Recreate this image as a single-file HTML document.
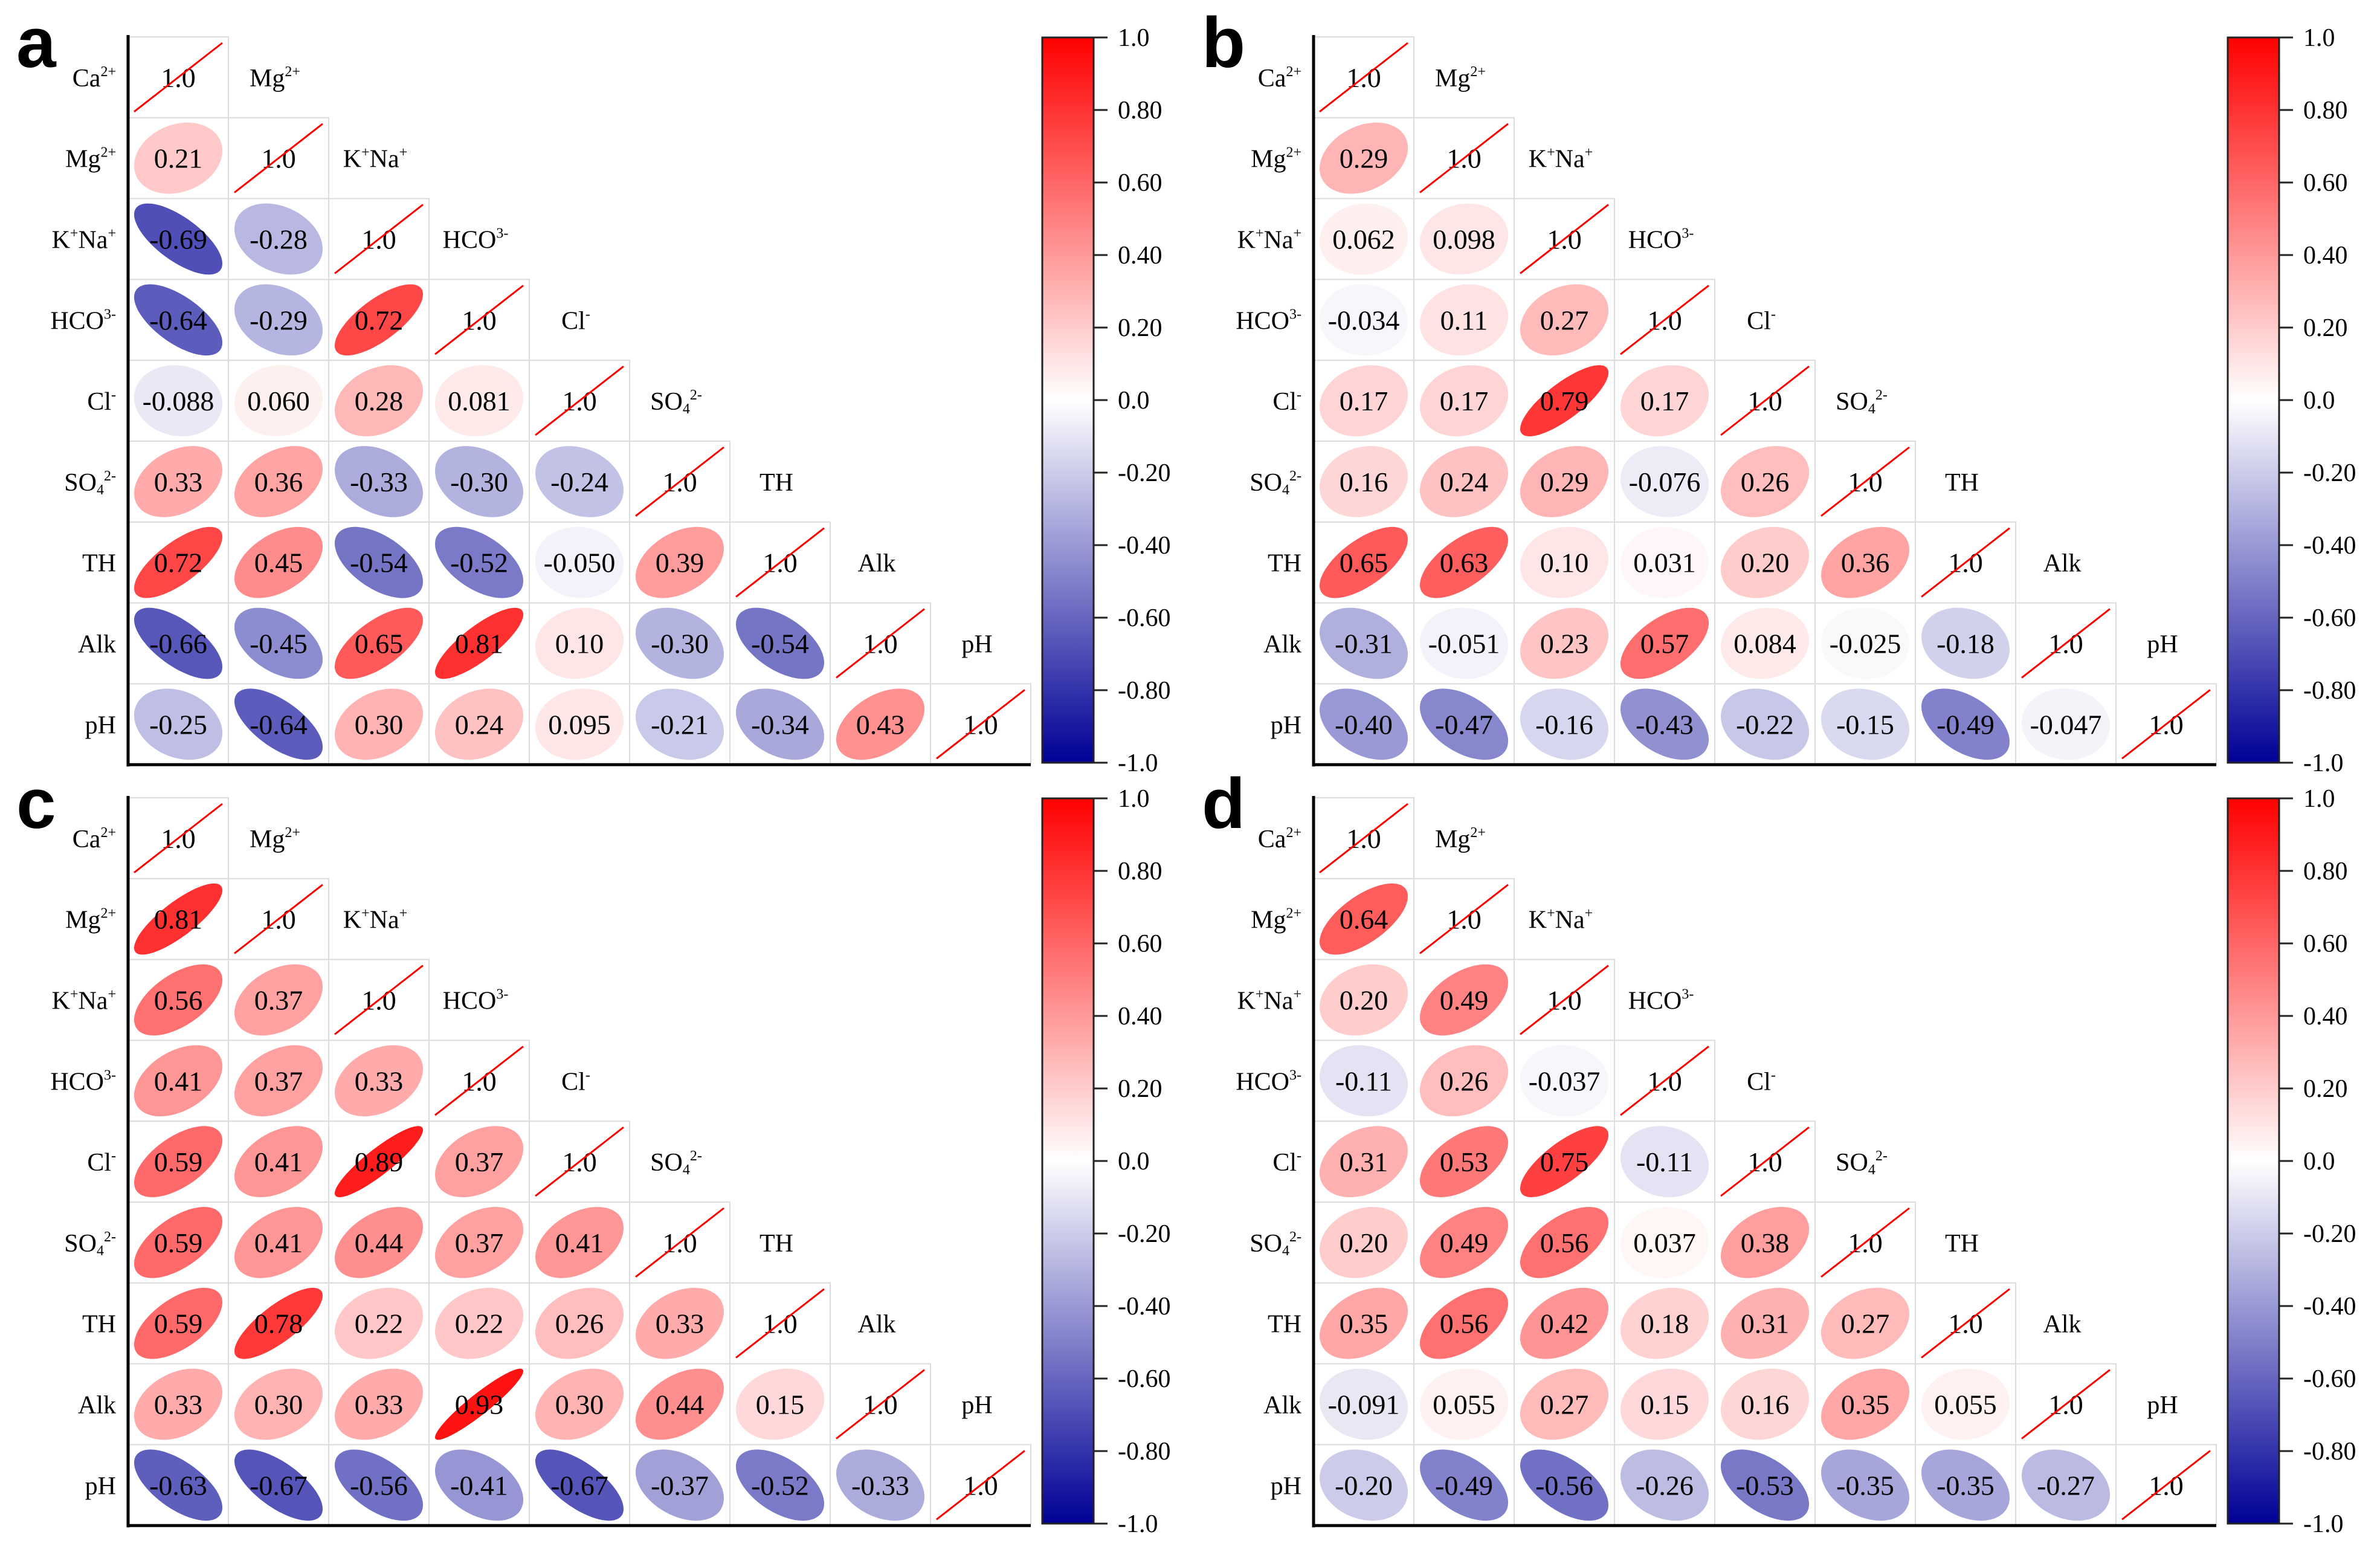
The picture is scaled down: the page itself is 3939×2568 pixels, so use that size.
<!DOCTYPE html>
<html><head><meta charset="utf-8">
<style>
html,body{margin:0;padding:0;background:#fff;}
svg{display:block;}
text{font-family:"Liberation Serif","Times New Roman",serif;fill:#000;}
text.pl{font-family:"Liberation Sans",Arial,sans-serif;font-weight:bold;}
</style></head>
<body>
<svg id="fig" width="3939" height="2568" viewBox="0 0 3939 2568" xmlns="http://www.w3.org/2000/svg" font-family="Liberation Serif, serif">
<defs>
<linearGradient id="cbgrad" x1="0" y1="0" x2="0" y2="1">
<stop offset="0" stop-color="rgb(255,0,0)"/>
<stop offset="0.5" stop-color="rgb(255,255,255)"/>
<stop offset="1" stop-color="rgb(0,0,150)"/>
</linearGradient>
</defs>
</svg>
<script>
// Variables (row/column categories)
const variables = ["Ca","Mg","KNa","HCO","Cl","SO4","TH","Alk","pH"];
const panelLetters = ["a","b","c","d"];
const colorbarTicks = [1.0,0.8,0.6,0.4,0.2,0.0,-0.2,-0.4,-0.6,-0.8,-1.0];
const colorbarTickLabels = ["1.0","0.80","0.60","0.40","0.20","0.0","-0.20","-0.40","-0.60","-0.80","-1.0"];

// Lower-triangle correlation values, row by row (rows Mg..pH)
const corrA = [
 [0.21],
 [-0.69,-0.28],
 [-0.64,-0.29,0.72],
 [-0.088,0.060,0.28,0.081],
 [0.33,0.36,-0.33,-0.30,-0.24],
 [0.72,0.45,-0.54,-0.52,-0.050,0.39],
 [-0.66,-0.45,0.65,0.81,0.10,-0.30,-0.54],
 [-0.25,-0.64,0.30,0.24,0.095,-0.21,-0.34,0.43]
];
const corrB = [
 [0.29],
 [0.062,0.098],
 [-0.034,0.11,0.27],
 [0.17,0.17,0.79,0.17],
 [0.16,0.24,0.29,-0.076,0.26],
 [0.65,0.63,0.10,0.031,0.20,0.36],
 [-0.31,-0.051,0.23,0.57,0.084,-0.025,-0.18],
 [-0.40,-0.47,-0.16,-0.43,-0.22,-0.15,-0.49,-0.047]
];
const corrC = [
 [0.81],
 [0.56,0.37],
 [0.41,0.37,0.33],
 [0.59,0.41,0.89,0.37],
 [0.59,0.41,0.44,0.37,0.41],
 [0.59,0.78,0.22,0.22,0.26,0.33],
 [0.33,0.30,0.33,0.93,0.30,0.44,0.15],
 [-0.63,-0.67,-0.56,-0.41,-0.67,-0.37,-0.52,-0.33]
];
const corrD = [
 [0.64],
 [0.20,0.49],
 [-0.11,0.26,-0.037],
 [0.31,0.53,0.75,-0.11],
 [0.20,0.49,0.56,0.037,0.38],
 [0.35,0.56,0.42,0.18,0.31,0.27],
 [-0.091,0.055,0.27,0.15,0.16,0.35,0.055],
 [-0.20,-0.49,-0.56,-0.26,-0.53,-0.35,-0.35,-0.27]
];

const NS = "http://www.w3.org/2000/svg";
const svg = document.getElementById("fig");
const CW = 166, CH = 133.8, N = 9;
const SERIF = "Liberation Serif, Times New Roman, serif";
const panels = [
 {ox:212, oy:61, data:corrA},
 {ox:2174, oy:61, data:corrB},
 {ox:212, oy:1320, data:corrC},
 {ox:2174, oy:1320, data:corrD}
];

function mk(tag, attrs, parent){
  const e = document.createElementNS(NS, tag);
  for (const k in attrs) e.setAttribute(k, attrs[k]);
  (parent||svg).appendChild(e);
  return e;
}
function color(r){
  if (r >= 0){ const g = Math.round(255*(1-r)); return `rgb(255,${g},${g})`; }
  const a = -r; const g = Math.round(255*(1-a)); const b = Math.round(255 - a*105);
  return `rgb(${g},${g},${b})`;
}
function fmt(v){ return Math.abs(v) < 0.1 ? v.toPrecision(2) : v.toFixed(2); }
function xAt(ox, j){ return ox + j*CW; }
function yAt(oy, i){ return oy + i*CH; }
function ellipsePath(cx, cy, r){
  const d = Math.acos(Math.max(-0.999, Math.min(0.999, r)));
  const sx = CW/2*0.88, sy = CH/2*0.88;
  let p = "";
  for (let k=0;k<=72;k++){
    const t = k/72*2*Math.PI;
    const x = cx + sx*Math.cos(t + d/2);
    const y = cy - sy*Math.cos(t - d/2);
    p += (k?"L":"M") + x.toFixed(1) + "," + y.toFixed(1);
  }
  return p + "Z";
}
function labelText(parent, name, x, y, anchor){
  const t = mk("text", {x:x, y:y, "font-size":42, "text-anchor":anchor, "font-family":SERIF}, parent);
  const add = (s, opt) => { const ts = mk("tspan", opt||{}, t); ts.textContent = s; return ts; };
  const sup = {"font-size":24, dy:-17};
  const back = (n) => ({dy:n});
  if (name==="Ca"){ add("Ca"); add("2+", sup); }
  else if (name==="Mg"){ add("Mg"); add("2+", sup); }
  else if (name==="KNa"){ add("K"); add("+", sup); add("Na", back(17)); add("+", sup); }
  else if (name==="HCO"){ add("HCO"); add("3-", sup); }
  else if (name==="Cl"){ add("Cl"); add("-", sup); }
  else if (name==="SO4"){ add("SO"); add("4", {"font-size":24, dy:6}); add("2-", {"font-size":24, dy:-23}); }
  else add(name);
  return t;
}

panels.forEach((P, pi) => {
  const g = mk("g", {});
  
  
  const L = mk("text", {x:P.ox-185, y:P.oy+50, "font-size":118, class:"pl", "font-family":"Liberation Sans, Arial, sans-serif", "font-weight":"bold"}, g);
  L.textContent = panelLetters[pi];
  
  
  for (let i=0;i<N;i++){
    for (let j=0;j<=i;j++){
      const x = xAt(P.ox,j), y = yAt(P.oy,i);
      const c = mk("rect", {x:x, y:y, width:CW, height:CH, fill:"none", stroke:"#dcdcdc", "stroke-width":2}, g);
      
      
    }
  }
  for (let i=0;i<N;i++){
    const rl = labelText(g, variables[i], P.ox-20, yAt(P.oy,i)+CH/2+15, "end");
    
    
    if (i < N-1){
      const cl = labelText(g, variables[i+1], xAt(P.ox,i+1)+CW/2-6, yAt(P.oy,i)+CH/2+15, "middle");
      
      
    }
    const dx = xAt(P.ox,i), dy = yAt(P.oy,i);
    const dt = mk("text", {x:dx+CW/2, y:dy+CH/2+16, "font-size":46, "text-anchor":"middle", "font-family":SERIF}, g);
    dt.textContent = "1.0";
    
    
    const dl = mk("line", {x1:dx+10, y1:dy+CH-10, x2:dx+CW-10, y2:dy+10, stroke:"#ff0000", "stroke-width":3}, g);
    
    
    for (let j=0;j<i;j++){
      const r = P.data[i-1][j];
      const cx = xAt(P.ox,j)+CW/2, cy = yAt(P.oy,i)+CH/2;
      const e = mk("path", {d:ellipsePath(cx,cy,r), fill:color(r)}, g);
      
      
      const t = mk("text", {x:cx, y:cy+16, "font-size":46, "text-anchor":"middle", "font-family":SERIF}, g);
      t.textContent = fmt(r);
      
      
    }
  }
  const ya = mk("line", {x1:P.ox, y1:P.oy-3, x2:P.ox, y2:P.oy+N*CH+3, stroke:"#000", "stroke-width":5}, g);
  
  
  const xa = mk("line", {x1:P.ox-2, y1:P.oy+N*CH, x2:P.ox+N*CW, y2:P.oy+N*CH, stroke:"#000", "stroke-width":5}, g);
  
  
  const bx = P.ox+1513, by = P.oy+1, bh = 1200, bw = 85;
  const cb = mk("rect", {x:bx, y:by, width:bw, height:bh, fill:"url(#cbgrad)", stroke:"#222", "stroke-width":3}, g);
  
  
  const cbY = v => by + (1 - v)/2*bh;
  colorbarTicks.forEach((v, k) => {
    const tk = mk("line", {x1:bx+bw, y1:cbY(v), x2:bx+bw+23, y2:cbY(v), stroke:"#222", "stroke-width":3}, g);
    
    
    const tl = mk("text", {x:bx+bw+40, y:cbY(v)+14, "font-size":42, "font-family":SERIF}, g);
    tl.textContent = colorbarTickLabels[k];
    
    
  });
});
</script>
</body></html>
